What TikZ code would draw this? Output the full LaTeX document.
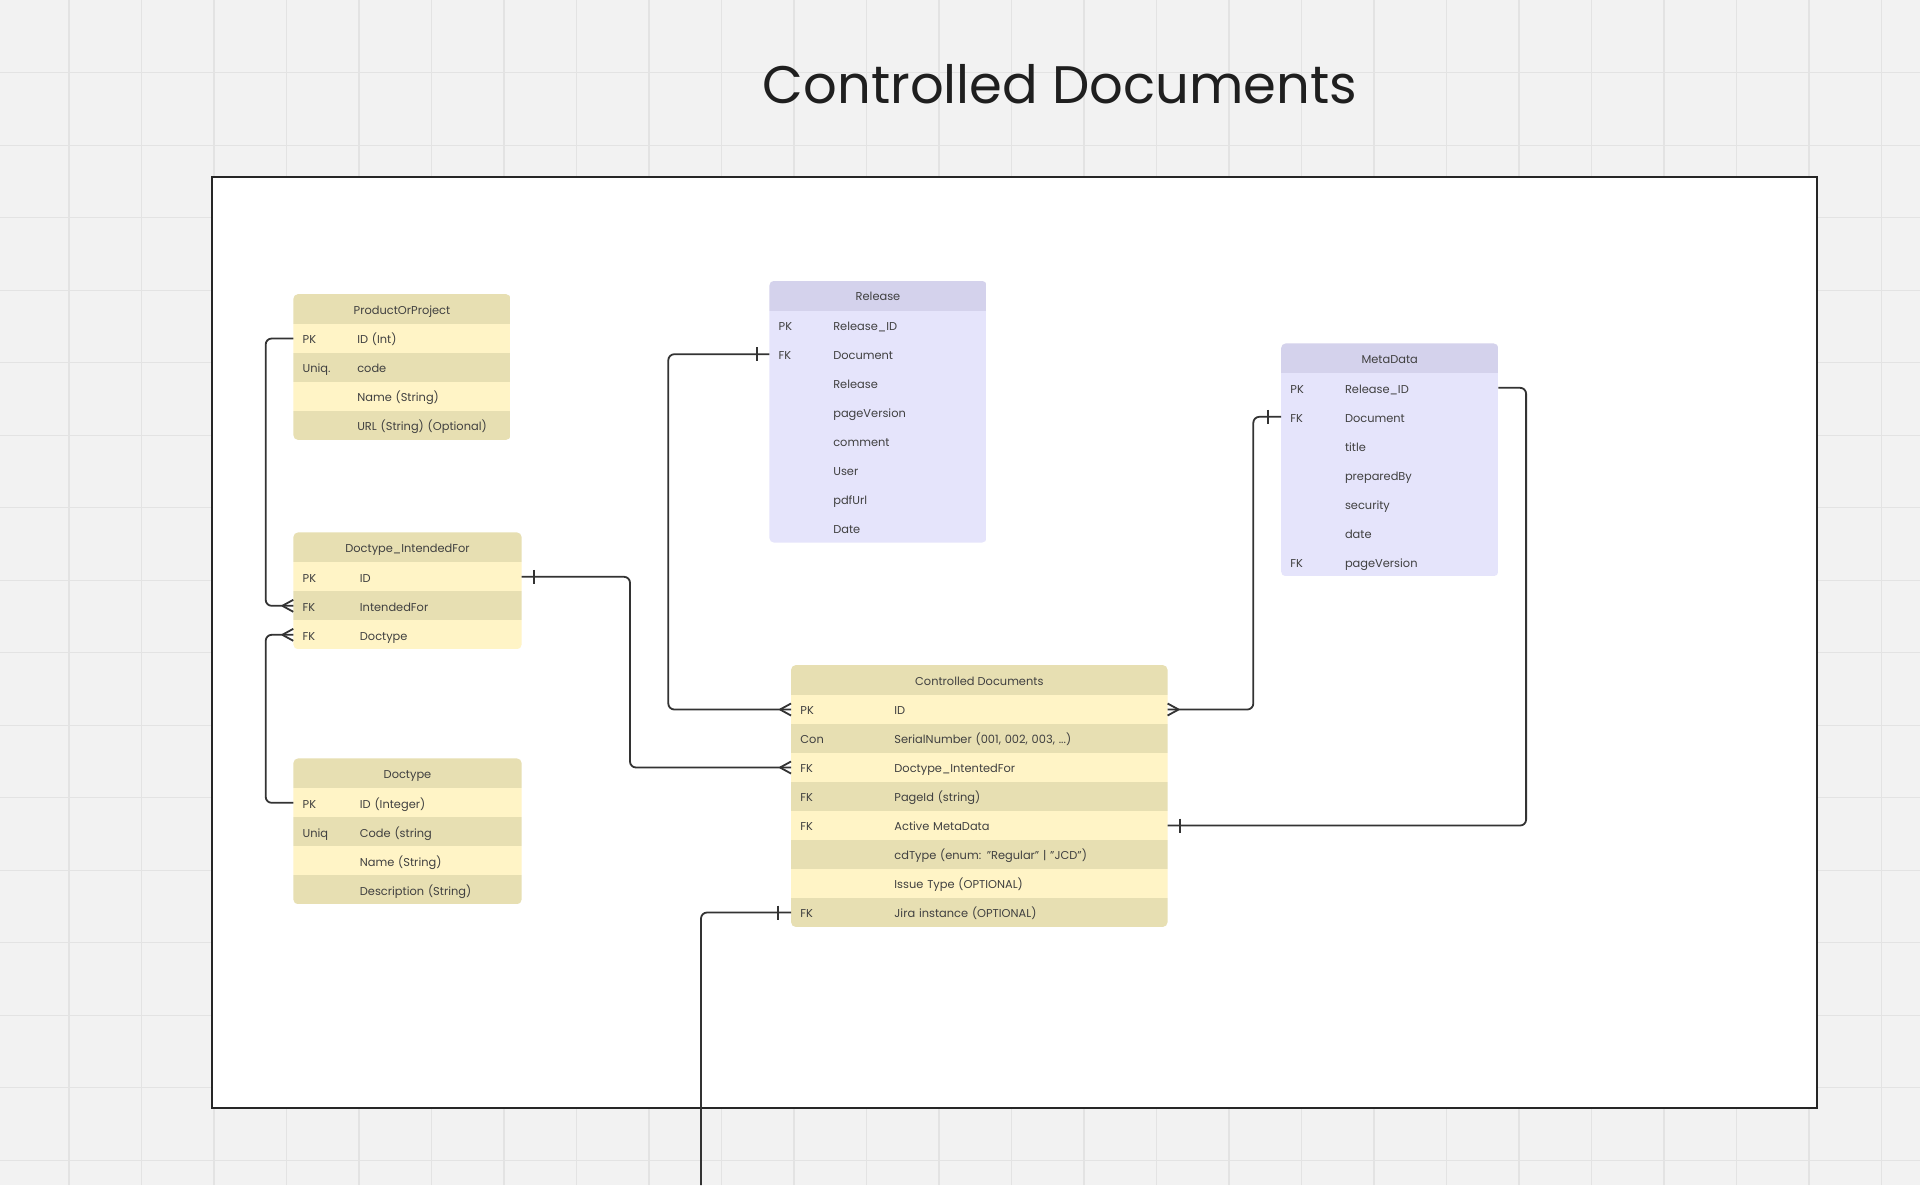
\documentclass[tikz,border=0pt]{standalone}
\usepackage{fontspec}
\setmainfont{Poppins}
\usetikzlibrary{positioning}

\definecolor{canvas}{HTML}{F2F2F2}
\definecolor{gridln}{HTML}{E3E3E3}
\definecolor{ylwdark}{HTML}{E7DFB2}
\definecolor{ylwlite}{HTML}{FFF4C6}
\definecolor{lavhead}{HTML}{D4D2EC}
\definecolor{lavbody}{HTML}{E5E4FB}
\definecolor{txt}{HTML}{404040}
\definecolor{lnk}{HTML}{333333}

\newcommand{\cdrowfont}{\fontsize{5.7}{7}\selectfont}
\newcommand{\cdtitlefont}{\fontsize{26.4}{30}\selectfont}
\newcommand{\kf}[2]{\makebox[\keyw][l]{#1}#2}

\begin{document}
\begin{tikzpicture}[
x=0.5pt, y=-0.5pt,
keyw/.store in=\keyw, keyw=27.3pt,
gridline/.style={draw=gridln, line width=0.6pt},
frame/.style={draw=black!85, line width=0.7pt, fill=white},
title/.style={font=\cdtitlefont, text=black!88, inner sep=0pt},
head/.style={rectangle, inner sep=0pt, outer sep=0pt, minimum height=15pt, align=center, font=\cdrowfont, text=txt, text height=5.4pt, text depth=0.3pt, anchor=north west},
row/.style={rectangle, inner xsep=4.7pt, inner ysep=0pt, outer sep=0pt, minimum height=14.5pt, align=left, font=\cdrowfont, text=txt, text height=5.6pt, text depth=0.2pt},
yhead/.style={head, fill=ylwdark},
phead/.style={head, fill=lavhead},
rowlt/.style={row, fill=ylwlite},
rowdk/.style={row, fill=ylwdark},
rowlav/.style={row, fill=lavbody},
narrow/.style={text width=99.3pt, keyw=27.3pt},
wide/.style={text width=104.8pt, keyw=28.6pt},
big/.style={text width=178.9pt, keyw=47pt},
link/.style={draw=lnk, line width=0.9pt, rounded corners=3pt},
endmark/.style={draw=lnk, line width=0.9pt}
]
\useasboundingbox (0,0) rectangle (1920,1185);

%Canvas
\fill[canvas] (0,0) rectangle (1920,1185);
\foreach \gx in {0,...,25} \draw[gridline] ({69+72.5*\gx},0) -- ({69+72.5*\gx},1185);
\foreach \gy in {0,...,15} \draw[gridline] (0,{72.6+72.5*\gy}) -- (1920,{72.6+72.5*\gy});
\draw[frame] (212,177) rectangle (1817,1108);
\node[title, anchor=base] (title) at (1060,103) {Controlled Documents};

%Nodes
\begin{scope}
\clip[rounded corners=2.5pt] (293.3,294) rectangle ++(217.4,146);
\node[yhead, minimum width=108.7pt]	(pop)	at (293.3,294)			{ProductOrProject};
\node[rowlt, narrow]	(pop-1)	[below=0pt of pop]		{\kf{PK}{ID (Int)}};
\node[rowdk, narrow]	(pop-2)	[below=0pt of pop-1]	{\kf{Uniq.}{code}};
\node[rowlt, narrow]	(pop-3)	[below=0pt of pop-2]	{\kf{}{Name (String)}};
\node[rowdk, narrow]	(pop-4)	[below=0pt of pop-3]	{\kf{}{URL (String) (Optional)}};
\end{scope}

\begin{scope}
\clip[rounded corners=2.5pt] (293.3,532.3) rectangle ++(228.4,117);
\node[yhead, minimum width=114.2pt]	(dif)	at (293.3,532.3)		{Doctype\_IntendedFor};
\node[rowlt, wide]	(dif-1)	[below=0pt of dif]		{\kf{PK}{ID}};
\node[rowdk, wide]	(dif-2)	[below=0pt of dif-1]	{\kf{FK}{IntendedFor}};
\node[rowlt, wide]	(dif-3)	[below=0pt of dif-2]	{\kf{FK}{Doctype}};
\end{scope}

\begin{scope}
\clip[rounded corners=2.5pt] (293.3,758.3) rectangle ++(228.4,146);
\node[yhead, minimum width=114.2pt]	(dt)	at (293.3,758.3)		{Doctype};
\node[rowlt, wide]	(dt-1)	[below=0pt of dt]		{\kf{PK}{ID (Integer)}};
\node[rowdk, wide]	(dt-2)	[below=0pt of dt-1]		{\kf{Uniq}{Code (string}};
\node[rowlt, wide]	(dt-3)	[below=0pt of dt-2]		{\kf{}{Name (String)}};
\node[rowdk, wide]	(dt-4)	[below=0pt of dt-3]		{\kf{}{Description (String)}};
\end{scope}

\begin{scope}
\clip[rounded corners=2.5pt] (769.3,280.7) rectangle ++(217.4,262);
\node[phead, minimum width=108.7pt]	(rel)	at (769.3,280.7)		{Release};
\node[rowlav, narrow]	(rel-1)	[below=0pt of rel]		{\kf{PK}{Release\_ID}};
\node[rowlav, narrow]	(rel-2)	[below=0pt of rel-1]	{\kf{FK}{Document}};
\node[rowlav, narrow]	(rel-3)	[below=0pt of rel-2]	{\kf{}{Release}};
\node[rowlav, narrow]	(rel-4)	[below=0pt of rel-3]	{\kf{}{pageVersion}};
\node[rowlav, narrow]	(rel-5)	[below=0pt of rel-4]	{\kf{}{comment}};
\node[rowlav, narrow]	(rel-6)	[below=0pt of rel-5]	{\kf{}{User}};
\node[rowlav, narrow]	(rel-7)	[below=0pt of rel-6]	{\kf{}{pdfUrl}};
\node[rowlav, narrow]	(rel-8)	[below=0pt of rel-7]	{\kf{}{Date}};
\end{scope}

\begin{scope}
\clip[rounded corners=2.5pt] (1281,343.3) rectangle ++(217.4,233);
\node[phead, minimum width=108.7pt]	(md)	at (1281,343.3)			{MetaData};
\node[rowlav, narrow]	(md-1)	[below=0pt of md]		{\kf{PK}{Release\_ID}};
\node[rowlav, narrow]	(md-2)	[below=0pt of md-1]		{\kf{FK}{Document}};
\node[rowlav, narrow]	(md-3)	[below=0pt of md-2]		{\kf{}{title}};
\node[rowlav, narrow]	(md-4)	[below=0pt of md-3]		{\kf{}{preparedBy}};
\node[rowlav, narrow]	(md-5)	[below=0pt of md-4]		{\kf{}{security}};
\node[rowlav, narrow]	(md-6)	[below=0pt of md-5]		{\kf{}{date}};
\node[rowlav, narrow]	(md-7)	[below=0pt of md-6]		{\kf{FK}{pageVersion}};
\end{scope}

\begin{scope}
\clip[rounded corners=2.5pt] (791,665) rectangle ++(376.6,262);
\node[yhead, minimum width=188.3pt]	(cd)	at (791,665)			{Controlled Documents};
\node[rowlt, big]	(cd-1)	[below=0pt of cd]		{\kf{PK}{ID}};
\node[rowdk, big]	(cd-2)	[below=0pt of cd-1]		{\kf{Con}{SerialNumber (001, 002, 003, ...)}};
\node[rowlt, big]	(cd-3)	[below=0pt of cd-2]		{\kf{FK}{Doctype\_IntentedFor}};
\node[rowdk, big]	(cd-4)	[below=0pt of cd-3]		{\kf{FK}{PageId (string)}};
\node[rowlt, big]	(cd-5)	[below=0pt of cd-4]		{\kf{FK}{Active MetaData}};
\node[rowdk, big]	(cd-6)	[below=0pt of cd-5]		{\kf{}{cdType (enum: "Regular" | "JCD")}};
\node[rowlt, big]	(cd-7)	[below=0pt of cd-6]		{\kf{}{Issue Type (OPTIONAL)}};
\node[rowdk, big]	(cd-8)	[below=0pt of cd-7]		{\kf{FK}{Jira instance (OPTIONAL)}};
\end{scope}

\coordinate (jira-end) at (701,1185);

%Lines
\draw[link] (pop-1.west)	-- +(-27.6,0)	|- (dif-2.west);
\draw[link] (dt-1.west)		-- +(-27.6,0)	|- (dif-3.west);
\draw[link] (dif-1.east)	-- +(108.3,0)	|- (cd-3.west);
\draw[link] (rel-2.west)	-- +(-101,0)	|- (cd-1.west);
\draw[link] (md-2.west)		-- +(-27.7,0)	|- (cd-1.east);
\draw[link] (md-1.east)		-- +(27.7,0)	|- (cd-5.east);
\draw[link] (cd-8.west)		-| (jira-end);

%Ends
\draw[endmark] (dif-2.west) ++(-11,0) -- +(11,-6) +(0,0) -- +(11,6);
\draw[endmark] (dif-3.west) ++(-11,0) -- +(11,-6) +(0,0) -- +(11,6);
\draw[endmark] (cd-1.west)	++(-11,0) -- +(11,-6) +(0,0) -- +(11,6);
\draw[endmark] (cd-3.west)	++(-11,0) -- +(11,-6) +(0,0) -- +(11,6);
\draw[endmark] (cd-1.east)	++(11,0)  -- +(-11,-6) +(0,0) -- +(-11,6);
\draw[endmark] (dif-1.east) ++(12,-7) -- +(0,14);
\draw[endmark] (rel-2.west) ++(-12,-7) -- +(0,14);
\draw[endmark] (md-2.west)	++(-13,-7) -- +(0,14);
\draw[endmark] (cd-5.east)	++(12,-7) -- +(0,14);
\draw[endmark] (cd-8.west)	++(-13,-7) -- +(0,14);

\end{tikzpicture}
\end{document}
